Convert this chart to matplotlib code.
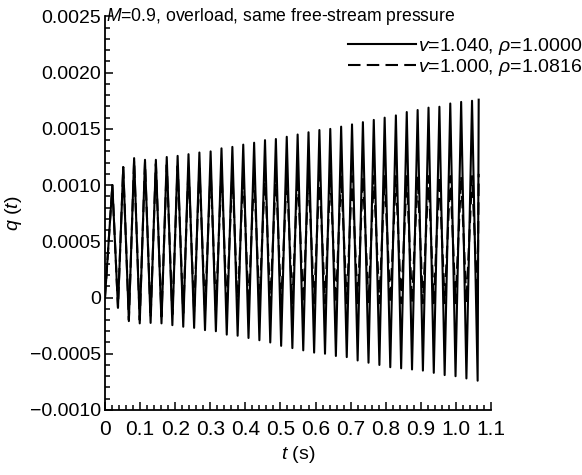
import matplotlib
matplotlib.use("Agg")
import matplotlib.pyplot as plt
from matplotlib.ticker import MultipleLocator, FuncFormatter

plt.rcParams['font.family'] = ['Liberation Sans', 'DejaVu Sans']
plt.rcParams['mathtext.fontset'] = 'custom'
plt.rcParams['mathtext.rm'] = 'Liberation Sans'
plt.rcParams['mathtext.it'] = 'Liberation Sans:italic'

# times of peaks / troughs (s)
peak_t = [0.021, 0.052, 0.083, 0.114, 0.145, 0.176, 0.207, 0.238, 0.269, 0.301,
          0.332, 0.363, 0.394, 0.425, 0.456, 0.487, 0.518, 0.549, 0.580, 0.611,
          0.642, 0.673, 0.704, 0.735, 0.766, 0.797, 0.829, 0.860, 0.891, 0.922,
          0.953, 0.984, 1.015, 1.046]
trough_t = [0.037, 0.068, 0.099, 0.130, 0.161, 0.192, 0.223, 0.254, 0.285, 0.316,
            0.347, 0.378, 0.409, 0.440, 0.471, 0.502, 0.534, 0.565, 0.596, 0.627,
            0.658, 0.689, 0.720, 0.751, 0.782, 0.813, 0.844, 0.875, 0.906, 0.937,
            0.968, 0.999, 1.030, 1.062]
t_start, t_end = 0.0, 1.065

# solid: v=1.040, rho=1.0000
solid_peaks = [0.00100, 0.00116, 0.00124, 0.001225, 0.001225, 0.00125, 0.00126, 0.001275, 0.00129, 0.00130,
               0.001327, 0.00134, 0.00136, 0.001377, 0.00140, 0.00141, 0.00143, 0.00145, 0.00147, 0.00149,
               0.00150, 0.00152, 0.00154, 0.00156, 0.00158, 0.00160, 0.00162, 0.00165, 0.001668, 0.001689,
               0.001697, 0.001726, 0.00174, 0.00175]
solid_troughs = [-0.00009, -0.00021, -0.00023, -0.000226, -0.00023, -0.000246, -0.00026, -0.00027, -0.00029, -0.00030,
                 -0.00033, -0.00034, -0.00036, -0.00038, -0.00040, -0.00043, -0.00045, -0.00047, -0.00049, -0.00050,
                 -0.00052, -0.00053, -0.00056, -0.00058, -0.00060, -0.00062, -0.00063, -0.00064, -0.00065, -0.00067,
                 -0.00069, -0.00070, -0.00072, -0.00074]
solid_start, solid_end = 0.0, 0.00176

# dashed: v=1.000, rho=1.0816
dashed_peaks = [0.00100, 0.00116, 0.00122, 0.00120, 0.00119, 0.00118, 0.00117, 0.00116, 0.00115, 0.00114,
                0.00113, 0.00112, 0.00112, 0.00111, 0.00111, 0.00110, 0.00110, 0.00110, 0.00109, 0.00109,
                0.00109, 0.00109, 0.00108, 0.00108, 0.00108, 0.00108, 0.00108, 0.00108, 0.00108, 0.00108,
                0.00108, 0.00108, 0.00108, 0.00108]
dashed_troughs = [-0.00009, -0.00020, -0.00020, -0.00018, -0.00017, -0.00015, -0.00014, -0.00013, -0.00012, -0.00011,
                  -0.00010, -0.00009, -0.00008, -0.00007, -0.00006, -0.00006, -0.00005, -0.00005, -0.00005, -0.00005,
                  -0.00005, -0.00005, -0.00005, -0.00005, -0.00005, -0.00005, -0.00005, -0.00005, -0.00005, -0.00005,
                  -0.00005, -0.00005, -0.00005, -0.00005]
dashed_start, dashed_end = 0.0, 0.00110

labels = ['$v$=1.040, $\\rho$=1.0000', '$v$=1.000, $\\rho$=1.0816']
title = '$M$=0.9, overload, same free-stream pressure'


def build(start, peaks, troughs, end):
    ts, ys = [t_start], [start]
    for tp, p, tt, tr in zip(peak_t, peaks, trough_t, troughs):
        ts += [tp, tt]
        ys += [p, tr]
    ts.append(t_end)
    ys.append(end)
    return ts, ys


fig = plt.figure(figsize=(5.82, 4.75), dpi=100)
ax = fig.add_axes([0.1804, 0.137, 0.6632, 0.8283])

ts, ys = build(solid_start, solid_peaks, solid_troughs, solid_end)
ax.plot(ts, ys, color='black', lw=1.5, solid_joinstyle='round', label=labels[0])
td, yd = build(dashed_start, dashed_peaks, dashed_troughs, dashed_end)
ax.plot(td, yd, color='black', lw=1.5, dashes=(6, 3), dash_joinstyle='round', label=labels[1])

ax.set_xlim(0, 1.1)
ax.set_ylim(-0.0010, 0.0025)
for s in ['top', 'right']:
    ax.spines[s].set_visible(False)
for s in ['left', 'bottom']:
    ax.spines[s].set_linewidth(1.3)

ax.xaxis.set_major_locator(MultipleLocator(0.1))
ax.xaxis.set_minor_locator(MultipleLocator(0.02))
ax.yaxis.set_major_locator(MultipleLocator(0.0005))
ax.yaxis.set_minor_locator(MultipleLocator(0.0001))
ax.tick_params(which='both', direction='in', width=1.1)
ax.tick_params(axis='x', labelsize=15, pad=7)
ax.tick_params(axis='y', labelsize=14, pad=3)
ax.tick_params(which='major', length=6)
ax.tick_params(which='minor', length=3.5)


def xfmt(v, pos):
    if abs(v) < 1e-9:
        return '0'
    return '%.1f' % v


def yfmt(v, pos):
    if abs(v) < 1e-9:
        return '0'
    return ('%.4f' % v).replace('-', '\u2212')


ax.xaxis.set_major_formatter(FuncFormatter(xfmt))
ax.yaxis.set_major_formatter(FuncFormatter(yfmt))

ax.set_xlabel('$t$ (s)', fontsize=14, labelpad=4)
ax.set_ylabel('$q$ ($t$)', fontsize=14, labelpad=4)

ax.text(0.004, 0.0025, title, fontsize=12.7, ha='left', va='center')

fig.legend(loc='upper right', bbox_to_anchor=(1.0, 0.925), frameon=False,
           fontsize=14, handlelength=3.5, handletextpad=0.1, labelspacing=0.0,
           borderpad=0.0, borderaxespad=0.0)

fig.savefig('out.png', dpi=100)
